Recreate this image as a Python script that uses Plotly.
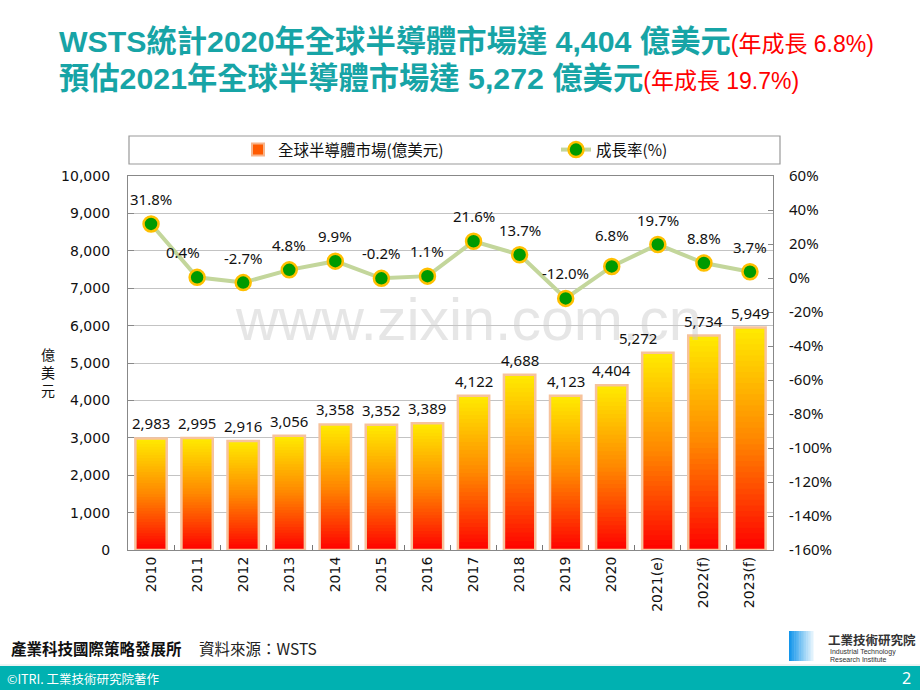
import plotly.graph_objects as go

# ---------------- data ----------------
categories = ["2010", "2011", "2012", "2013", "2014", "2015", "2016", "2017",
              "2018", "2019", "2020", "2021(e)", "2022(f)", "2023(f)"]
market_values = [2983, 2995, 2916, 3056, 3358, 3352, 3389, 4122, 4688, 4123,
                 4404, 5272, 5734, 5949]
growth_rates = [31.8, 0.4, -2.7, 4.8, 9.9, -0.2, 1.1, 21.6, 13.7, -12.0,
                6.8, 19.7, 8.8, 3.7]
bar_label_text = ["2,983", "2,995", "2,916", "3,056", "3,358", "3,352", "3,389",
                  "4,122", "4,688", "4,123", "4,404", "5,272", "5,734", "5,949"]
growth_label_text = ["31.8%", "0.4%", "-2.7%", "4.8%", "9.9%", "-0.2%", "1.1%",
                     "21.6%", "13.7%", "-12.0%", "6.8%", "19.7%", "8.8%", "3.7%"]
left_ticks = list(range(0, 10001, 1000))
right_ticks = list(range(-160, 61, 20))
right_tick_text = ["%d%%" % v for v in right_ticks]

# ---------------- geometry helpers ----------------
W, H = 920, 690
L, R, T, B = 128, 773, 176, 550


def px(x):
    return (x - L) / (R - L)


def py(y):
    return (B - y) / (B - T)


fig = go.Figure()

# gradient bars: each bar split into thin overlapping segments (red bottom -> yellow top)
N = 40


def grad_color(f):
    stops = [(0.0, (255, 0, 0)), (0.25, (255, 70, 0)), (0.5, (255, 135, 0)),
             (0.75, (255, 185, 0)), (1.0, (255, 236, 0))]
    for (f0, c0), (f1, c1) in zip(stops[:-1], stops[1:]):
        if f <= f1:
            t = (f - f0) / (f1 - f0)
            return "rgb(%d,%d,%d)" % tuple(round(a + (b - a) * t) for a, b in zip(c0, c1))
    return "rgb(%d,%d,%d)" % stops[-1][1]


BAR_W = 0.68
for i in range(N):
    frac = min(1.8 / N, (N - i) / N)
    fig.add_trace(go.Bar(
        x=categories,
        y=[v * frac for v in market_values],
        base=[v * i / N for v in market_values],
        width=BAR_W,
        marker=dict(color=grad_color((i + 0.5) / N), line=dict(width=0)),
        showlegend=False, hoverinfo="skip", yaxis="y"))

# outline of each bar
fig.add_trace(go.Bar(
    x=categories, y=market_values, width=BAR_W,
    marker=dict(color="rgba(0,0,0,0)", line=dict(color="#f7c39c", width=2.5)),
    showlegend=False, hoverinfo="skip", yaxis="y"))

# legend proxy for bars
fig.add_trace(go.Bar(
    x=[categories[0]], y=[None], name="全球半導體市場(億美元)",
    marker=dict(color="#ff5a00", line=dict(color="#f7b48a", width=2)),
    showlegend=True, yaxis="y", legend="legend"))

# growth line
fig.add_trace(go.Scatter(
    x=categories, y=growth_rates, yaxis="y2", mode="lines+markers",
    name="成長率(%)",
    line=dict(color="#c3d69b", width=4),
    marker=dict(size=15, color="#009a00", line=dict(color="#ffc000", width=2.5)),
    cliponaxis=False, legend="legend2"))

LABEL_FONT = dict(family="Noto Sans, DejaVu Sans", size=15, color="#111")

annotations = []
# watermark (drawn first)
annotations.append(dict(x=px(468), y=py(320), xref="paper", yref="paper", showarrow=False,
                        xanchor="center", yanchor="middle",
                        text="www.zixin.com.cn",
                        font=dict(family="Liberation Sans, Arial", size=59,
                                  color="rgba(200,200,200,0.45)")))

# bar value labels (x given as category index)
for i, (v, t) in enumerate(zip(market_values, bar_label_text)):
    annotations.append(dict(x=i, y=v, xref="x", yref="y", text=t, showarrow=False,
                            yanchor="bottom", yshift=3,
                            xshift=(-20 if categories[i] == "2021(e)" else 0),
                            font=LABEL_FONT))
# growth labels
for i, (v, t) in enumerate(zip(growth_rates, growth_label_text)):
    xs = -14 if categories[i] == "2011" else 0
    ys = 31 if categories[i] == "2020" else 25
    annotations.append(dict(x=i, y=v, xref="x", yref="y2", text=t, showarrow=False,
                            yshift=ys, xshift=xs, font=LABEL_FONT))

# title
annotations.append(dict(
    x=px(57), y=py(42), xref="paper", yref="paper", xanchor="left", yanchor="middle",
    showarrow=False,
    text="<b>WSTS統計2020年全球半導體市場達 4,404 億美元</b>"
         "<span style='color:#ff0000;font-size:23px'>(年成長 6.8%)</span>",
    font=dict(family="Liberation Sans, Noto Sans CJK TC", size=30.3, color="#17a4a6")))
annotations.append(dict(
    x=px(57), y=py(78), xref="paper", yref="paper", xanchor="left", yanchor="middle",
    showarrow=False,
    text="<b>預估2021年全球半導體市場達 5,272 億美元</b>"
         "<span style='color:#ff0000;font-size:23px'>(年成長 19.7%)</span>",
    font=dict(family="Liberation Sans, Noto Sans CJK TC", size=30.3, color="#17a4a6")))


def text_at(x, y, text, size, color="#111", family="Noto Sans CJK TC", xanchor="left"):
    annotations.append(dict(x=px(x), y=py(y), xref="paper", yref="paper",
                            xanchor=xanchor, yanchor="middle", showarrow=False, text=text,
                            font=dict(family=family, size=size, color=color)))


# y-axis title
text_at(48, 372, "億<br>美<br>元", 14, xanchor="center")

# footer texts
text_at(9, 648, "<b>產業科技國際策略發展所</b>", 15.5)
text_at(197, 648, "資料來源：WSTS", 15.5, color="#222")
text_at(5, 678, "©ITRI. 工業技術研究院著作", 12.5, color="white")
text_at(913, 678, "2", 16, color="white", family="Noto Sans", xanchor="right")
text_at(826, 639, "<b>工業技術研究院</b>", 12.5, color="#333")
text_at(828, 652, "Industrial Technology", 7, color="#333", family="Liberation Sans")
text_at(828, 659, "Research Institute", 7, color="#333", family="Liberation Sans")

shapes = []
# legend box
shapes.append(dict(type="rect", xref="paper", yref="paper", x0=px(129), x1=px(780),
                   y0=py(164), y1=py(136), line=dict(color="#999", width=1.2),
                   fillcolor="white", layer="below"))
# footer band
shapes.append(dict(type="rect", xref="paper", yref="paper", x0=px(0), x1=px(920),
                   y0=py(690), y1=py(666), line=dict(width=0), fillcolor="#00b1b1"))
shapes.append(dict(type="line", xref="paper", yref="paper", x0=px(0), x1=px(920),
                   y0=py(665), y1=py(665), line=dict(color="#d8e8e8", width=1)))
# logo gradient square
nl = 14
for k in range(nl):
    f = k / (nl - 1)
    c0 = (20, 150, 235)
    c1 = (225, 242, 252)
    col = "rgb(%d,%d,%d)" % tuple(round(a + (b - a) * f) for a, b in zip(c0, c1))
    x0 = 789 + 24 * k / nl
    x1 = 789 + 24 * (k + 1) / nl + 0.5
    shapes.append(dict(type="rect", xref="paper", yref="paper", x0=px(x0), x1=px(x1),
                       y0=py(661), y1=py(631), line=dict(width=0), fillcolor=col))

LEGEND_FONT = dict(family="Noto Sans CJK TC", size=15.5, color="#111")

fig.update_layout(
    width=W, height=H,
    margin=dict(l=L, r=W - R, t=T, b=H - B),
    paper_bgcolor="white", plot_bgcolor="white",
    barmode="overlay",
    showlegend=True,
    legend=dict(orientation="h", x=px(238), y=py(150), xanchor="left", yanchor="middle",
                bgcolor="rgba(0,0,0,0)", font=LEGEND_FONT),
    legend2=dict(orientation="h", x=px(556), y=py(150), xanchor="left", yanchor="middle",
                 bgcolor="rgba(0,0,0,0)", font=LEGEND_FONT),
    xaxis=dict(type="category", categoryorder="array", categoryarray=categories,
               tickangle=-90, ticks="inside", tickson="boundaries", ticklen=5,
               tickcolor="#777", showline=True, linecolor="#888", linewidth=1.2, mirror=True,
               showgrid=False, tickfont=dict(family="DejaVu Sans", size=14, color="#111"),
               range=[-0.5, len(categories) - 0.5], fixedrange=True),
    yaxis=dict(range=[0, 10000], tickvals=left_ticks, tickformat=",", ticks="inside",
               ticklen=6, tickcolor="#888", showline=True, linecolor="#888", linewidth=1.2,
               mirror=True, showgrid=True, gridcolor="#c3c3c3", gridwidth=1.2, zeroline=False,
               ticklabelstandoff=14,
               tickfont=dict(family="DejaVu Sans", size=14, color="#111")),
    yaxis2=dict(range=[-160, 60], tickvals=right_ticks, ticktext=right_tick_text,
                overlaying="y", side="right", ticks="inside", ticklen=5, tickcolor="#888",
                showgrid=False, zeroline=False, ticklabelstandoff=15,
                tickfont=dict(family="Noto Sans, DejaVu Sans", size=15, color="#111")),
    annotations=annotations,
    shapes=shapes,
)

fig.write_html("out.html", config={"displayModeBar": False},
               post_script="document.body.style.margin='0';document.body.style.overflow='hidden';")
